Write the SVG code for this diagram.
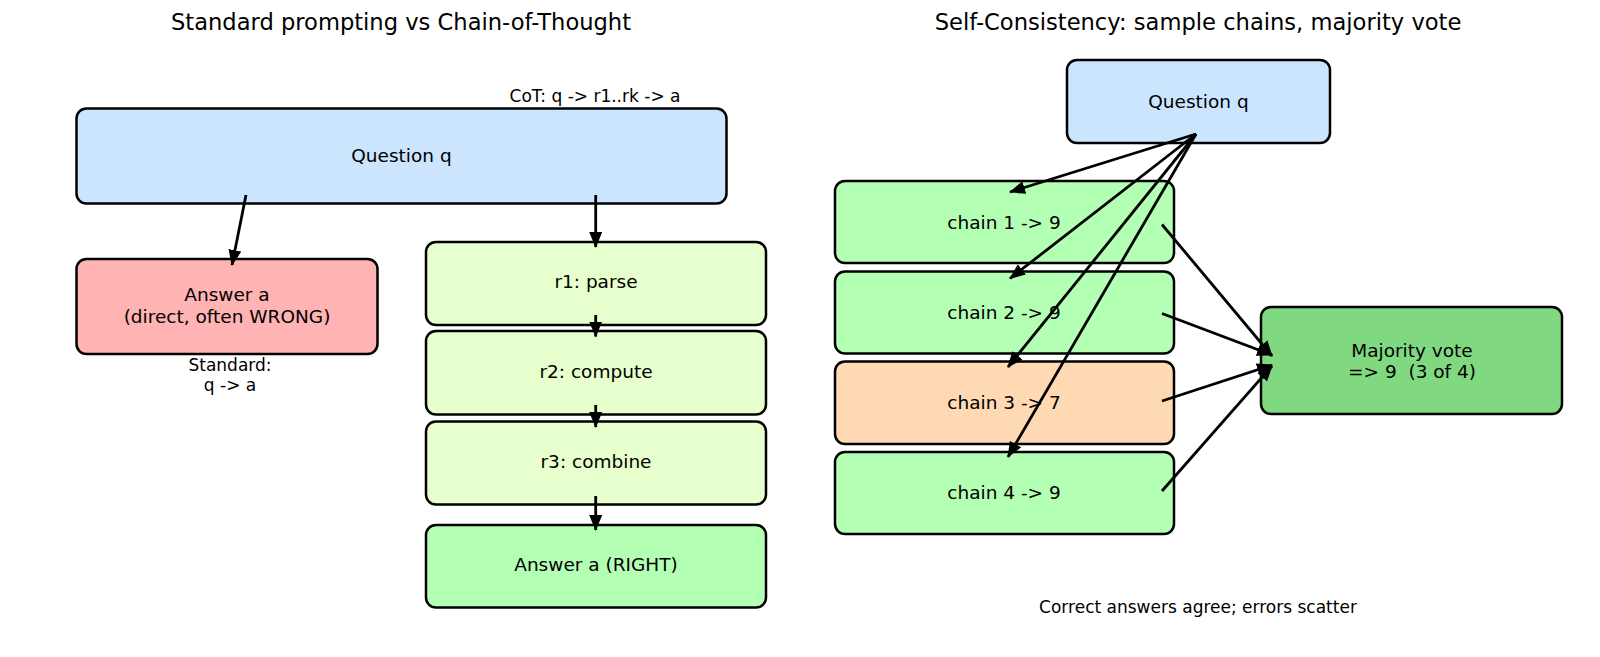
<svg xmlns="http://www.w3.org/2000/svg" width="1600" height="657" viewBox="0 0 1600 657">
<defs>
<style>
text{font-family:"DejaVu Sans","Liberation Sans",sans-serif;fill:#000;text-anchor:middle;white-space:pre}
.t{font-size:22.6px}
.l{font-size:18.5px}
.s{font-size:17px}
.box{stroke:#000;stroke-width:2.5}
.q{fill:#cce5ff}
.wr{fill:#ffb3b3}
.st{fill:#e6ffcc}
.ok{fill:#b3ffb3}
.bad{fill:#ffd9b3}
.mv{fill:#80d980}
.c line{stroke:#000;stroke-width:2.8;fill:none;marker-end:url(#ah)}
</style>
<marker id="ah" viewBox="0 0 16 13" refX="15" refY="6.5" markerWidth="16" markerHeight="13" markerUnits="userSpaceOnUse" orient="auto">
<path d="M0,0 L16,6.5 L0,13 z" fill="#000"/>
</marker>
</defs>
<rect width="1600" height="657" fill="#fff"/>
<text class="t" x="401" y="30">Standard prompting vs Chain-of-Thought</text>
<text class="t" x="1198" y="30">Self-Consistency: sample chains, majority vote</text>
<text class="s" x="595" y="102">CoT: q -&gt; r1..rk -&gt; a</text>
<text class="s" x="230" y="371">Standard:</text>
<text class="s" x="230" y="391">q -&gt; a</text>
<text class="s" x="1198" y="613">Correct answers agree; errors scatter</text>

<g id="node-question-left"><rect class="box q" x="76.5" y="108.5" width="650" height="95" rx="10"/><text class="l" x="401.5" y="162">Question q</text></g>
<g id="node-answer-wrong"><rect class="box wr" x="76.5" y="259" width="301" height="95" rx="10"/><text class="l" x="227" y="301">Answer a</text><text class="l" x="227" y="322.5">(direct, often WRONG)</text></g>
<g id="node-r1"><rect class="box st" x="426" y="242" width="340" height="83" rx="10"/><text class="l" x="596" y="288">r1: parse</text></g>
<g id="node-r2"><rect class="box st" x="426" y="331" width="340" height="83.5" rx="10"/><text class="l" x="596" y="378">r2: compute</text></g>
<g id="node-r3"><rect class="box st" x="426" y="421.5" width="340" height="83" rx="10"/><text class="l" x="596" y="468">r3: combine</text></g>
<g id="node-answer-right"><rect class="box ok" x="426" y="525" width="340" height="82.5" rx="10"/><text class="l" x="596" y="571">Answer a (RIGHT)</text></g>

<g id="node-question-right"><rect class="box q" x="1067" y="60" width="263" height="83" rx="10"/><text class="l" x="1198.5" y="108">Question q</text></g>
<g id="node-chain1"><rect class="box ok" x="835" y="181" width="339" height="82" rx="10"/><text class="l" x="1004" y="228.5">chain 1 -&gt; 9</text></g>
<g id="node-chain2"><rect class="box ok" x="835" y="271.5" width="339" height="82" rx="10"/><text class="l" x="1004" y="318.5">chain 2 -&gt; 9</text></g>
<g id="node-chain3"><rect class="box bad" x="835" y="361.5" width="339" height="82.5" rx="10"/><text class="l" x="1004" y="408.5">chain 3 -&gt; 7</text></g>
<g id="node-chain4"><rect class="box ok" x="835" y="452" width="339" height="82" rx="10"/><text class="l" x="1004" y="499">chain 4 -&gt; 9</text></g>
<g id="node-majority"><rect class="box mv" x="1261" y="307" width="301" height="107" rx="10"/><text class="l" x="1412" y="356.5">Majority vote</text><text class="l" x="1412" y="378">=&gt; 9  (3 of 4)</text></g>

<g id="connectors" class="c">
<line x1="246" y1="195" x2="232" y2="265"/>
<line x1="595.7" y1="195" x2="595.7" y2="247"/>
<line x1="595.7" y1="315" x2="595.7" y2="336.5"/>
<line x1="595.7" y1="405" x2="595.7" y2="427"/>
<line x1="595.7" y1="496" x2="595.7" y2="530"/>
<line x1="1196" y1="134" x2="1010" y2="192"/>
<line x1="1196" y1="134" x2="1010" y2="278.5"/>
<line x1="1196" y1="134" x2="1008" y2="367"/>
<line x1="1196" y1="134" x2="1008" y2="457"/>
<line x1="1162" y1="224.5" x2="1272" y2="356"/>
<line x1="1162" y1="313.5" x2="1272" y2="355"/>
<line x1="1162" y1="401" x2="1272" y2="365"/>
<line x1="1162" y1="491" x2="1272" y2="366"/>
</g>
</svg>
